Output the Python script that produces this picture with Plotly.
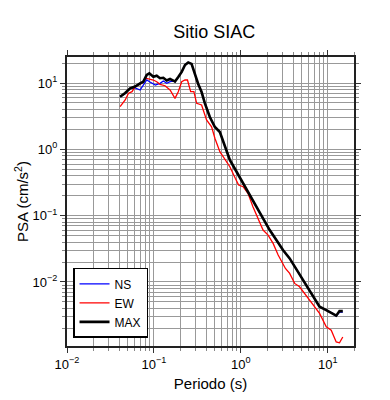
import plotly.graph_objects as go

# Periods (s) and pseudo-spectral accelerations (cm/s^2)
ns_T = [0.0408, 0.0467, 0.0532, 0.0607, 0.0693, 0.0755, 0.0826, 0.0911, 0.1037, 0.1175, 0.1282,
        0.1403, 0.1532, 0.1669, 0.1746, 0.1905, 0.2085, 0.2276, 0.2479, 0.2710, 0.2958, 0.3228,
        0.3532, 0.3855, 0.4395, 0.5023, 0.5728, 0.6531, 0.7464, 0.8918, 1.059, 1.265, 1.509,
        1.799, 2.145, 2.559, 3.048, 3.639, 4.345, 5.168, 6.166, 7.362, 8.035, 9.59, 10.94,
        12.48, 13.62, 14.86]
ns_A = [6.15, 6.95, 8.32, 8.41, 7.84, 9.33, 11.1, 10.25, 9.33, 9.89, 10.7,
        9.89, 10.47, 10.7, 10.47, 12.3, 14.7, 18.7, 20.4, 19.4, 13.2, 9.66,
        7.31, 4.94, 3.07, 2.17, 1.82, 1.12, 0.690, 0.459, 0.307, 0.205, 0.136,
        0.0910, 0.0607, 0.0429, 0.0303, 0.0227, 0.0157, 0.0111, 0.00755, 0.00515, 0.00423, 0.00377, 0.00345,
        0.00306, 0.00352, 0.00352]

ew_T = [0.0408, 0.0440, 0.0467, 0.0510, 0.0560, 0.0607, 0.0725, 0.0803, 0.0877, 0.0984, 0.1076,
        0.1175, 0.1341, 0.1532, 0.1746, 0.1905, 0.2085, 0.2276, 0.2430, 0.2646, 0.2880, 0.3100,
        0.3532, 0.4028, 0.4604, 0.5023, 0.5728, 0.6890, 0.7464, 0.8620, 0.9420, 1.059, 1.206,
        1.376, 1.650, 1.799, 2.055, 2.348, 2.683, 3.253, 3.639, 4.154, 4.727, 5.410, 6.457,
        8.035, 9.59, 10.94, 12.48, 13.62, 14.86]
ew_A = [4.39, 4.94, 5.55, 7.0, 7.4, 8.8, 9.89, 11.8, 11.5, 11.1, 10.47,
        9.55, 9.1, 7.84, 5.87, 7.4, 10.47, 11.1, 11.1, 7.4, 7.4, 4.94,
        4.66, 2.77, 2.19, 1.47, 0.92, 0.650, 0.547, 0.366, 0.290, 0.273, 0.217,
        0.136, 0.0809, 0.0607, 0.0510, 0.0382, 0.0255, 0.0160, 0.0135, 0.00952, 0.00847, 0.00673, 0.00502,
        0.00336, 0.00211, 0.00188, 0.00125, 0.00121, 0.00148]

max_T = [0.0408, 0.0467, 0.0532, 0.0607, 0.0693, 0.0755, 0.0826, 0.0885, 0.0984, 0.1076, 0.1175,
         0.1282, 0.1403, 0.1532, 0.1669, 0.1746, 0.1905, 0.2085, 0.2276, 0.2479, 0.2710, 0.2958,
         0.3228, 0.3532, 0.3855, 0.4395, 0.5023, 0.5728, 0.6531, 0.7464, 0.8918, 1.059, 1.265,
         1.509, 1.799, 2.145, 2.559, 3.048, 3.639, 4.345, 5.168, 6.166, 7.362, 8.035, 9.59,
         10.94, 12.48, 13.62, 14.86]
max_A = [6.21, 7.06, 8.32, 8.85, 9.89, 10.47, 13.2, 14.0, 12.4, 12.9, 11.8,
         12.0, 10.9, 11.5, 10.9, 10.5, 12.3, 14.7, 18.7, 20.4, 19.4, 13.2,
         9.66, 7.31, 4.94, 3.07, 2.17, 1.82, 1.12, 0.690, 0.459, 0.307, 0.205,
         0.136, 0.0910, 0.0607, 0.0429, 0.0303, 0.0227, 0.0157, 0.0111, 0.00755, 0.00515, 0.00423, 0.00377,
         0.00345, 0.00311, 0.00364, 0.00364]

x_tickvals = [0.01, 0.1, 1, 10]
x_ticktext = ["10<sup>\u22122</sup>", "10<sup>\u22121</sup>", "10<sup>0</sup>", "10<sup>1</sup>"]
y_tickvals = [0.01, 0.1, 1, 10]
y_ticktext = ["10<sup>\u22122</sup>", "10<sup>\u22121</sup>", "10<sup>0</sup>", "10<sup>1</sup>"]

FONT = "Liberation Sans, Arial, sans-serif"

fig = go.Figure()
fig.add_trace(go.Scatter(x=ns_T, y=ns_A, mode="lines", name="NS",
                         line=dict(color="#0000ff", width=1.3)))
fig.add_trace(go.Scatter(x=ew_T, y=ew_A, mode="lines", name="EW",
                         line=dict(color="#ff0000", width=1.3)))
fig.add_trace(go.Scatter(x=max_T, y=max_A, mode="lines", name="MAX",
                         line=dict(color="#000000", width=2.6)))

axis_common = dict(
    type="log", automargin=False,
    showgrid=True, gridcolor="#999999", gridwidth=1,
    showline=True, linecolor="#222222", linewidth=2, mirror="allticks",
    ticks="outside", ticklen=5, tickcolor="#333333", tickwidth=1,
    minor=dict(showgrid=True, gridcolor="#999999", gridwidth=1,
               ticks="outside", ticklen=3, tickcolor="#888888", dtick="D1"),
    zeroline=False,
    tickfont=dict(family=FONT, size=13, color="black"),
)

fig.update_xaxes(**axis_common, range=[-2, 1.301], tickvals=x_tickvals, ticktext=x_ticktext,
                 title=dict(text="Periodo (s)", font=dict(family=FONT, size=15, color="black"),
                            standoff=8))
fig.update_yaxes(**axis_common, range=[-2.965, 1.392], tickvals=y_tickvals, ticktext=y_ticktext,
                 title=dict(text="PSA (cm/s<sup>2</sup>)", font=dict(family=FONT, size=15, color="black"),
                            standoff=0))

# page body adds an 8px offset; figure sized so the plot frame sits where the reference has it
fig.update_layout(
    width=382, height=392,
    margin=dict(l=59, r=36, t=49, b=54),
    paper_bgcolor="white", plot_bgcolor="white",
    title=dict(text="Sitio SIAC", x=0.54, xanchor="center", y=0.939, yanchor="middle",
               font=dict(family=FONT, size=18, color="black")),
    legend=dict(x=0.021, y=0.028, xanchor="left", yanchor="bottom",
                bgcolor="white", bordercolor="black", borderwidth=1.5,
                font=dict(family=FONT, size=12, color="black"),
                itemwidth=30, tracegroupgap=2),
    showlegend=True,
)

fig.write_html("out.html")
